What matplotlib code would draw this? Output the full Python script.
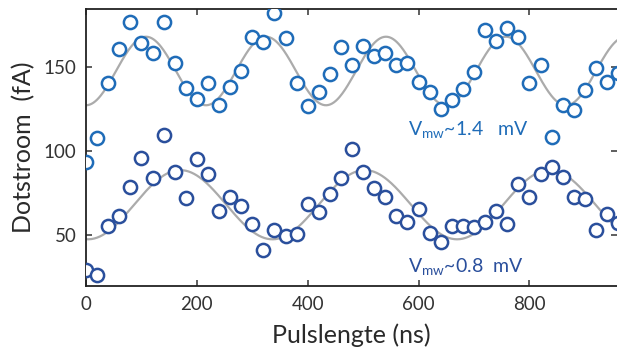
import numpy as np
import matplotlib
matplotlib.use("Agg")
import matplotlib.pyplot as plt

plt.rcParams['font.family'] = ['Lato', 'DejaVu Sans']

# pulse lengths (ns) and dot currents (fA)
t_ns = np.arange(0, 980, 20)

i_high = [93.6, 107.6, 140.3, 160.5, 176.6, 164.1, 158.1, 176.6, 152.2, 137.7,
          130.8, 140.3, 127.4, 137.9, 147.8, 168.0, 164.7, 182.0, 167.1, 140.7,
          126.8, 134.9, 145.6, 162.1, 151.2, 162.7, 156.7, 158.1, 151.2, 152.2,
          140.9, 134.9, 125.0, 130.4, 136.9, 147.2, 172.0, 165.5, 173.4, 168.0,
          140.3, 151.2, 108.2, 127.4, 124.4, 136.3, 149.2, 141.3, 146.2]

i_low = [29.2, 26.2, 55.4, 61.5, 78.4, 96.0, 83.8, 109.5, 87.7, 72.2,
         95.0, 86.1, 64.5, 72.8, 67.3, 56.6, 41.1, 53.0, 49.6, 50.4,
         68.5, 63.5, 74.2, 83.8, 101.2, 87.3, 78.2, 72.8, 61.5, 57.5,
         65.5, 51.4, 45.7, 55.6, 55.6, 55.0, 57.9, 64.5, 56.6, 80.4,
         72.8, 86.1, 90.7, 84.7, 72.8, 71.4, 53.0, 62.3, 57.0]

# cosine fit parameters: offset, amplitude, period (ns), time of minimum (ns)
fit_high = (147.6, 20.4, 216.5, 0.0)
fit_low = (68.0, 20.6, 333.0, 3.5)

c_high = "#1f6cb8"
c_low = "#2a4f9c"
c_fit = "#ababab"

fig = plt.figure(figsize=(6.17, 3.56), dpi=100)
ax = fig.add_axes([86/617, 70/356, 531/617, 277/356])

tt = np.linspace(0, 1000, 600)
for off, amp, per, t0 in (fit_high, fit_low):
    ax.plot(tt, off - amp*np.cos(2*np.pi*(tt - t0)/per), color=c_fit, lw=1.6, zorder=1)

ax.plot(t_ns, i_high, 'o', ms=9.5, mfc='white', mec=c_high, mew=1.8, zorder=3)
ax.plot(t_ns, i_low, 'o', ms=9.5, mfc='white', mec=c_low, mew=1.8, zorder=3)

ax.text(581, 112, r'V$_{\mathregular{mw}}$~1.4   mV', color=c_high, fontsize=14,
        ha='left', va='center')
ax.text(581, 31, r'V$_{\mathregular{mw}}$~0.8  mV', color=c_low, fontsize=14,
        ha='left', va='center')

ax.set_xlim(0, 958)
ax.set_ylim(19.6, 184.5)
ax.set_xticks([0, 200, 400, 600, 800])
ax.set_yticks([50, 100, 150])

ax.spines['right'].set_visible(False)
for s in ('left', 'bottom', 'top'):
    ax.spines[s].set_linewidth(1.3)
    ax.spines[s].set_color('#222222')
ax.tick_params(direction='in', length=4, width=1.1, color='#333333',
               top=True, right=True, labelsize=13.5, labelcolor='#333333', pad=7)

ax.set_xlabel('Pulslengte (ns)', fontsize=18, color='#2a2a2a', labelpad=8)
ax.set_ylabel('Dotstroom  (fA)', fontsize=18, color='#2a2a2a', labelpad=6)

fig.savefig('out.png', dpi=100)
